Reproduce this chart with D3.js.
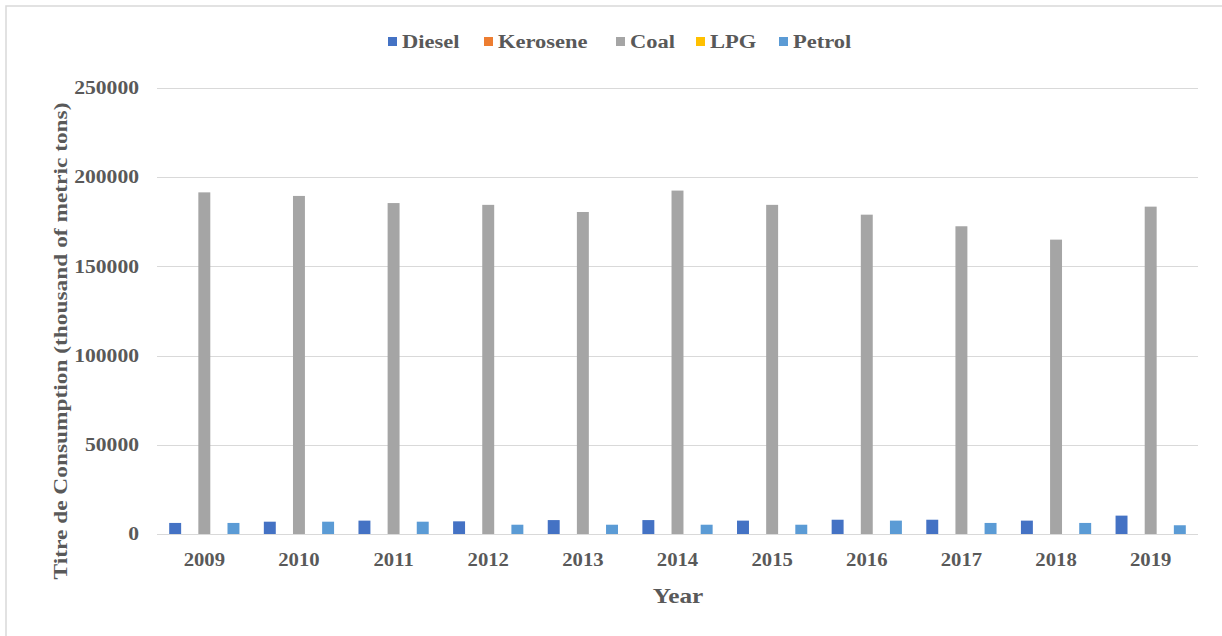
<!DOCTYPE html>
<meta charset="utf-8">
<style>
body { margin: 0; background: #fff; }
text { font-family: "Liberation Serif", "Times New Roman", serif; font-weight: bold; fill: #595959; }
.grid line { stroke: #d9d9d9; stroke-width: 1px; }
</style>
<body>
<script src="https://cdnjs.cloudflare.com/ajax/libs/d3/7.8.5/d3.min.js"></script>
<script>

var years = ["2009","2010","2011","2012","2013","2014","2015","2016","2017","2018","2019"]
var series = ["Diesel", "Kerosene", "Coal", "LPG", "Petrol"]
var colors = ["#4472c4", "#ed7d31", "#a5a5a5", "#ffc000", "#5b9bd5"]

var diesel   = [6200, 6900, 7500, 7100, 7800, 7800, 7500, 8000, 8000, 7500, 10300]
var kerosene = [0, 0, 0, 0, 0, 0, 0, 0, 0, 0, 0]
var coal     = [191500, 189500, 185500, 184500, 180500, 192500, 184500, 179000, 172500, 165000, 183500]
var lpg      = [0, 0, 0, 0, 0, 0, 0, 0, 0, 0, 0]
var petrol   = [6200, 6900, 6900, 5200, 5200, 5200, 5200, 7500, 6200, 6200, 4900]
var yTicks   = [0, 50000, 100000, 150000, 200000, 250000]

var values = [diesel, kerosene, coal, lpg, petrol]

var width = 1222, height = 636

// the source font is a little wider than Liberation Serif, so stretch text sideways
function stretch(sel, f) {
  sel.each(function() {
    var w = this.getComputedTextLength()
    d3.select(this).attr("textLength", w * f).attr("lengthAdjust", "spacingAndGlyphs")
  })
}

var svg = d3.select("body").append("svg")
    .attr("width", width)
    .attr("height", height)

// outer chart border
svg.append("rect")
    .attr("x", 6).attr("y", 6)
    .attr("width", 1240).attr("height", 660)
    .attr("fill", "none")
    .attr("stroke", "#d9d9d9")
    .attr("stroke-width", 1.5)

var x0 = d3.scaleBand()
    .domain(years)
    .range([157, 1198])
    .paddingInner(0.23)
    .paddingOuter(0.115)

var x1 = d3.scaleBand()
    .domain(series)
    .range([0, x0.bandwidth()])
    .paddingInner(0.18)
    .paddingOuter(0.09)

var y = d3.scaleLinear()
    .domain([0, 250000])
    .range([534, 88])

// gridlines
svg.append("g").attr("class", "grid")
  .selectAll("line")
  .data(yTicks)
  .enter().append("line")
    .attr("x1", 157).attr("x2", 1198)
    .attr("y1", d => Math.round(y(d)) + 0.5)
    .attr("y2", d => Math.round(y(d)) + 0.5)

// y axis labels
var yAxis = d3.axisLeft(y).tickValues(yTicks).tickSize(0).tickPadding(14).tickFormat(d3.format("d"))
var ya = svg.append("g").attr("transform", "translate(153,0)").call(yAxis)
ya.select(".domain").remove()
ya.selectAll("text").attr("fill", "#595959")
    .style("font-size", "18px")
    .style("font-family", "'Liberation Serif', serif").style("font-weight", "bold")
    .call(stretch, 1.2)

// x axis labels
var xAxis = d3.axisBottom(x0).tickSize(0).tickPadding(19)
var xa = svg.append("g").attr("transform", "translate(0,534)").call(xAxis)
xa.select(".domain").remove()
xa.selectAll("text").attr("fill", "#595959")
    .style("font-size", "18px")
    .style("font-family", "'Liberation Serif', serif").style("font-weight", "bold")
    .call(stretch, 1.15)

// bars
var groups = svg.selectAll(".year")
  .data(years)
  .enter().append("g")
    .attr("class", "year")
    .attr("transform", d => "translate(" + x0(d) + ",0)")

groups.selectAll("rect")
  .data((d, i) => series.map((s, j) => ({ s: s, v: values[j][i], c: colors[j] })))
  .enter().append("rect")
    .attr("x", d => x1(d.s))
    .attr("width", x1.bandwidth())
    .attr("y", d => y(d.v))
    .attr("height", d => y(0) - y(d.v))
    .attr("fill", d => d.c)

// axis titles
svg.append("text")
    .attr("x", 678).attr("y", 603)
    .attr("text-anchor", "middle")
    .style("font-size", "22px")
    .text("Year")
    .call(stretch, 1.15)

svg.append("text")
    .attr("transform", "translate(67,341) rotate(-90)")
    .attr("text-anchor", "middle")
    .style("font-size", "19px")
    .text("Titre de Consumption (thousand of metric tons)")
    .call(stretch, 1.23)

// legend
var legendX = [388, 484, 616, 696, 779]
var legend = svg.selectAll(".legend")
  .data(series)
  .enter().append("g")
    .attr("class", "legend")
    .attr("transform", (d, i) => "translate(" + legendX[i] + ",37)")

legend.append("rect")
    .attr("width", 9).attr("height", 9)
    .attr("fill", (d, i) => colors[i])

legend.append("text")
    .attr("x", 14).attr("y", 11)
    .style("font-size", "18px")
    .text(d => d)
    .call(stretch, 1.25)

</script>
